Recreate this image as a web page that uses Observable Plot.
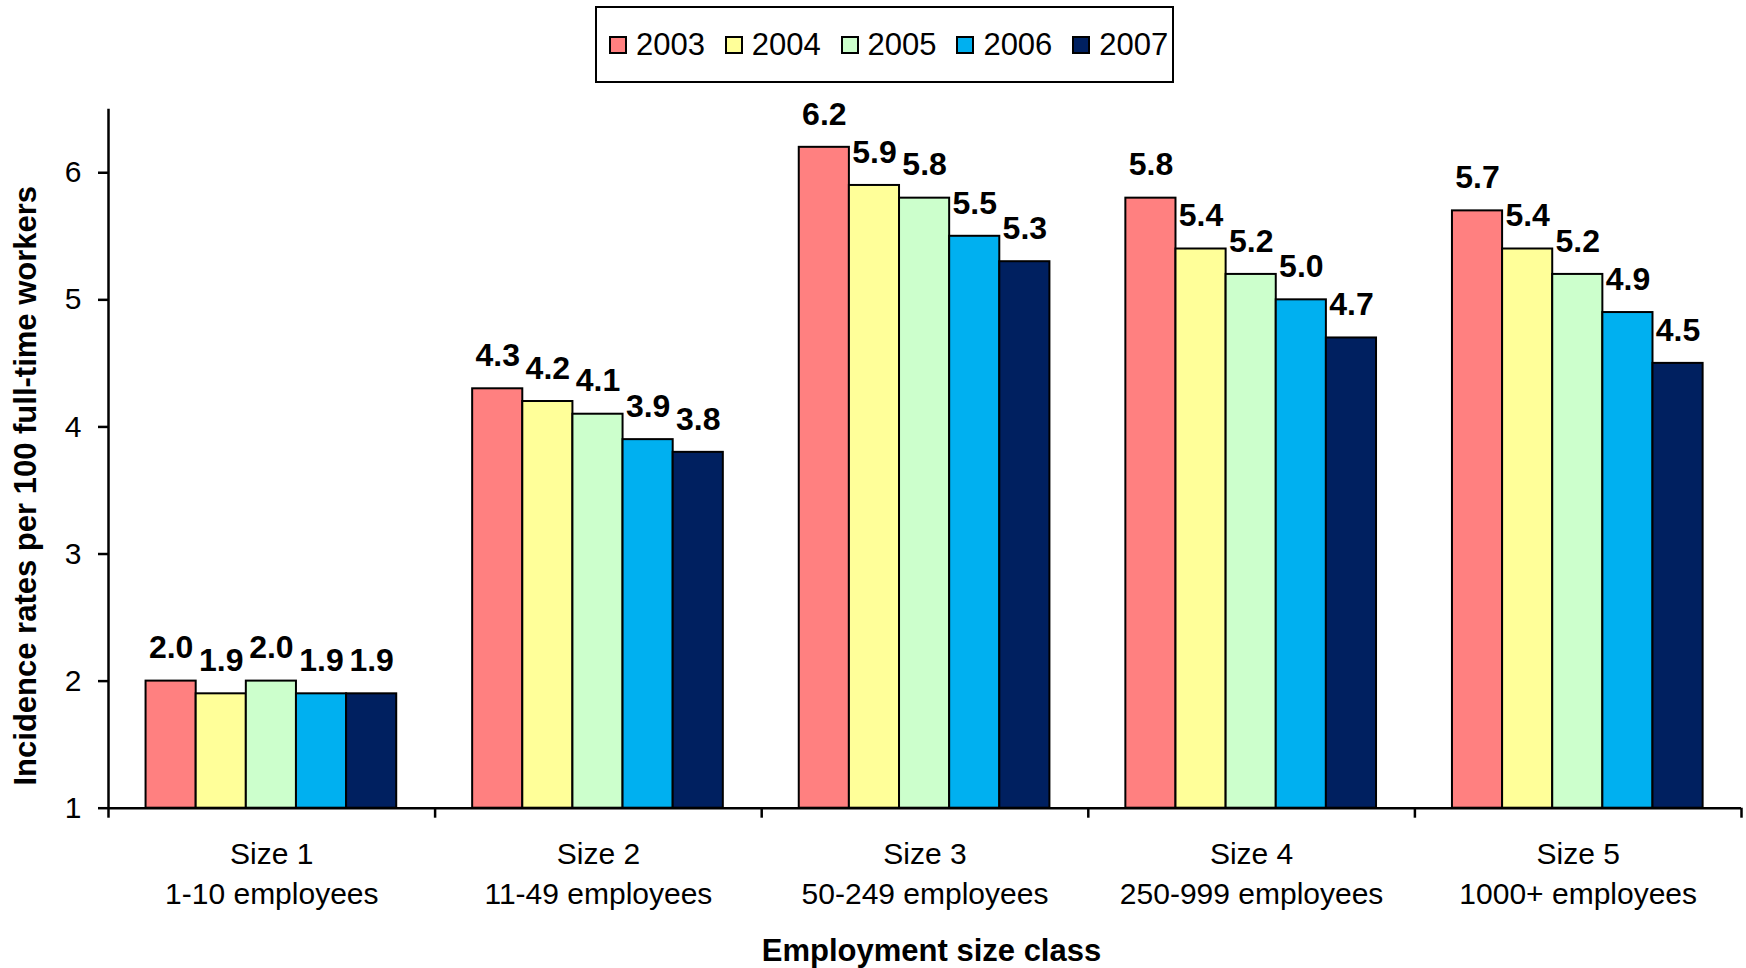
<!DOCTYPE html>
<html>
<head>
<meta charset="utf-8">
<script src="https://cdn.jsdelivr.net/npm/d3@7"></script>
<script src="https://cdn.jsdelivr.net/npm/@observablehq/plot@0.6"></script>
<style>
  html, body { margin: 0; padding: 0; background: #fff; }
  #wrap { position: relative; width: 1746px; height: 968px; font-family: "Liberation Sans", Arial, sans-serif; }
  #legend { position: absolute; left: 595px; top: 6px; width: 579px; height: 77px; box-sizing: border-box;
            border: 2px solid #000; background: #fff; display: flex; align-items: center; padding-left: 12px;
            font-size: 31px; color: #000; overflow: hidden; }
  .item { display: flex; align-items: center; flex: 0 0 115.8px; }
  .sw { width: 18px; height: 18px; box-sizing: border-box; border: 2px solid #000; margin-right: 9px; }
  svg { display: block; }
</style>
</head>
<body>
<div id="wrap"><div id="chart"></div><div id="legend"></div></div>
<script>
const categories = ["Size 1", "Size 2", "Size 3", "Size 4", "Size 5"];
const categoryLabels = ["Size 1\n1-10 employees", "Size 2\n11-49 employees", "Size 3\n50-249 employees", "Size 4\n250-999 employees", "Size 5\n1000+ employees"];
const years = ["2003", "2004", "2005", "2006", "2007"];
const colors = ["#FF8080", "#FFFF99", "#CCFFCC", "#00B0F0", "#002060"];
const values2003 = [2.0, 4.3, 6.2, 5.8, 5.7];
const values2004 = [1.9, 4.2, 5.9, 5.4, 5.4];
const values2005 = [2.0, 4.1, 5.8, 5.2, 5.2];
const values2006 = [1.9, 3.9, 5.5, 5.0, 4.9];
const values2007 = [1.9, 3.8, 5.3, 4.7, 4.5];
const yTicks = [1, 2, 3, 4, 5, 6];
const yTitle = "Incidence rates per 100 full-time workers";
const xTitle = "Employment size class";

const series = [values2003, values2004, values2005, values2006, values2007];
// group layout within each category band (band = 1 unit on x)
const groupOffset = 0.115, barW = 0.1535;
const rows = [];
categories.forEach((c, i) => {
  years.forEach((yr, j) => {
    const x1 = i + groupOffset + j * barW;
    rows.push({category: c, year: yr, value: series[j][i], x1, x2: x1 + barW});
  });
});

const font = "Liberation Sans, Arial, sans-serif";
const chart = Plot.plot({
  width: 1746,
  height: 968,
  marginLeft: 108,
  marginRight: 5,
  marginTop: 108.7,
  marginBottom: 160.3,
  style: {fontFamily: font, fontSize: "30px", color: "#000", background: "transparent", overflow: "visible"},
  x: {type: "linear", domain: [0, categories.length], axis: null},
  y: {domain: [1, 6.5], axis: null},
  color: {type: "ordinal", domain: years, range: colors},
  marks: [
    Plot.rectY(rows, {x1: "x1", x2: "x2", y1: 1, y2: "value", fill: "year", stroke: "#000", strokeWidth: 2}),
    Plot.ruleY([1], {x1: 0, x2: categories.length, stroke: "#000", strokeWidth: 2.5}),
    Plot.ruleX([0], {y1: 1, y2: 6.5, stroke: "#000", strokeWidth: 2.5}),
    Plot.axisY(yTicks, {label: null, tickSize: 10, tickPadding: 17, strokeWidth: 2.5, fontSize: 30, tickFormat: d => String(d)}),
    Plot.axisX(d3.range(categories.length + 1), {label: null, tickSize: 10, strokeWidth: 2.5, tickFormat: () => ""}),
    Plot.axisX(d3.range(categories.length).map(i => i + 0.5), {label: null, tickSize: 0, tickPadding: 27, fontSize: 30, lineHeight: 1.333,
      tickFormat: d => categoryLabels[Math.floor(d)]}),
    Plot.text(rows, {x: d => (d.x1 + d.x2) / 2, y: "value", text: d => d.value.toFixed(1), fontSize: 32, fontWeight: "bold", dy: -33, fill: "#000"}),
    Plot.text([yTitle], {frameAnchor: "left", textAnchor: "middle", lineAnchor: "middle", rotate: -90, dx: -82, dy: 27, fontSize: 31, fontWeight: "bold", fill: "#000"}),
    Plot.text([xTitle], {frameAnchor: "bottom", textAnchor: "middle", lineAnchor: "middle", dx: 6.5, dy: 143, fontSize: 31, fontWeight: "bold", fill: "#000"})
  ]
});
document.getElementById("chart").appendChild(chart);

const legend = document.getElementById("legend");
years.forEach((yr, j) => {
  const item = document.createElement("div");
  item.className = "item";
  const sw = document.createElement("div");
  sw.className = "sw";
  sw.style.background = colors[j];
  item.appendChild(sw);
  item.appendChild(document.createTextNode(yr));
  legend.appendChild(item);
});
</script>
</body>
</html>
